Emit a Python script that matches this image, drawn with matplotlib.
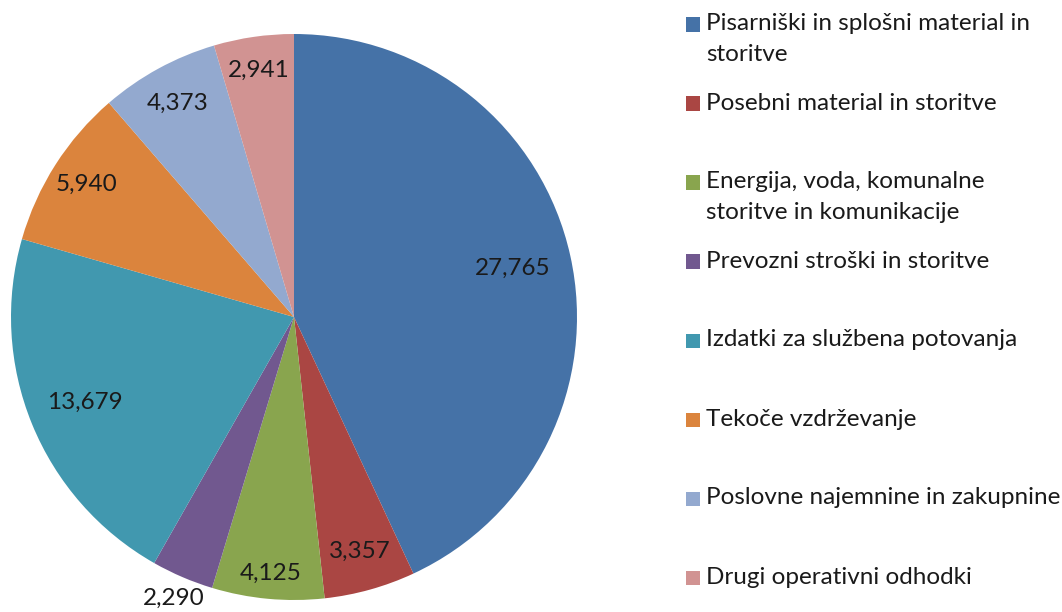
import numpy as np
import matplotlib
matplotlib.use('Agg')
import matplotlib.pyplot as plt
from matplotlib.patches import Rectangle

plt.rcParams['font.family'] = ['Lato', 'DejaVu Sans']

# Data
categories = [
    'Pisarniški in splošni material in\nstoritve',
    'Posebni material in storitve',
    'Energija, voda, komunalne\nstoritve in komunikacije',
    'Prevozni stroški in storitve',
    'Izdatki za službena potovanja',
    'Tekoče vzdrževanje',
    'Poslovne najemnine in zakupnine',
    'Drugi operativni odhodki',
]
values = [27765, 3357, 4125, 2290, 13679, 5940, 4373, 2941]
colors = ['#4572A7', '#AA4643', '#89A54E', '#71588F',
          '#4198AF', '#DB843D', '#93A9CF', '#D19392']

# label distance from centre (fraction of radius), like Excel's best fit
label_dist = [0.79, 0.86, 0.91, 1.08, 0.80, 0.87, 0.86, 0.88]

fig = plt.figure(figsize=(10.62, 6.12), dpi=100)
ax = fig.add_axes([11 / 1062, 12 / 612, 566 / 1062, 566 / 612])

wedges, _ = ax.pie(values, colors=colors, startangle=90, counterclock=False,
                   radius=1, wedgeprops=dict(linewidth=0))
ax.set_xlim(-1, 1)
ax.set_ylim(-1, 1)
ax.set_aspect('equal')
ax.axis('off')

for w, v, d in zip(wedges, values, label_dist):
    ang = np.deg2rad((w.theta1 + w.theta2) / 2)
    ax.text(d * np.cos(ang), d * np.sin(ang), f'{v:,}',
            ha='center', va='center', fontsize=17.5, color='#1a1a1a')

# Legend (Excel style: markers aligned with first line, evenly spaced)
fig_h = 612
fig_w = 1062
for i, (lab, col) in enumerate(zip(categories, colors)):
    y_px = 24.5 + i * 79
    y = 1 - y_px / fig_h
    fig.patches.append(Rectangle((686 / fig_w, y - 7 / fig_h), 14 / fig_w, 14 / fig_h,
                                 transform=fig.transFigure, facecolor=col,
                                 edgecolor='none'))
    fig.text(706 / fig_w, y + 11 / fig_h, lab, ha='left', va='top',
             fontsize=17.5, color='#1a1a1a', linespacing=1.55)

fig.savefig('out.png', dpi=100)
